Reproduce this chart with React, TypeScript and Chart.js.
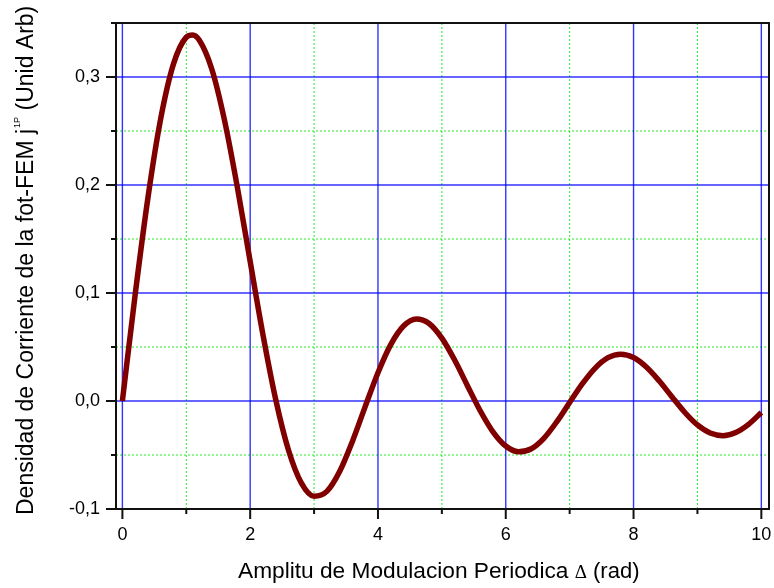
import React, { useEffect, useRef } from "react";
import { Chart, registerables } from "chart.js";

Chart.register(...registerables);

// Modulation amplitude Δ (rad)
const deltaRad = [
  0, 0.2, 0.4, 0.6, 0.8, 1.0, 1.1, 1.2, 1.4, 1.6, 1.8, 2.0, 2.2, 2.4, 2.6, 2.8,
  3.0, 3.2, 3.4, 3.6, 3.8, 4.0, 4.2, 4.4, 4.6, 4.8, 5.0, 5.2, 5.4, 5.6, 5.8,
  6.0, 6.2, 6.4, 6.6, 6.8, 7.0, 7.2, 7.4, 7.6, 7.8, 8.0, 8.2, 8.4, 8.6, 8.8,
  9.0, 9.2, 9.4, 9.6, 9.8, 10.0,
];

// Photo-EMF current density (arb. units)
const currentDensity = [
  0, 0.0985, 0.1882, 0.2615, 0.3121, 0.3368, 0.3389, 0.3344, 0.3072, 0.2595,
  0.1977, 0.1291, 0.0614, 0.0013, -0.0456, -0.0758, -0.0882, -0.0837, -0.0653,
  -0.0374, -0.0052, 0.0262, 0.0522, 0.0694, 0.076, 0.0718, 0.0582, 0.0379,
  0.0142, -0.009, -0.0285, -0.0417, -0.047, -0.0442, -0.0343, -0.0191, -0.0014,
  0.016, 0.0305, 0.0401, 0.0434, 0.0403, 0.0315, 0.0187, 0.004, -0.0104,
  -0.0222, -0.0297, -0.0321, -0.0292, -0.0216, -0.0107,
];

const xMajorTicks = [0, 2, 4, 6, 8, 10];
const xMinorTicks = [1, 3, 5, 7, 9];
const yMajorTicks = [-0.1, 0.0, 0.1, 0.2, 0.3];
const yMinorTicks = [-0.05, 0.05, 0.15, 0.25, 0.35];

const X_MIN = -0.1;
const X_MAX = 10.12;
const Y_MIN = -0.1;
const Y_MAX = 0.35;

const SANS = '"Liberation Sans", Arial, Helvetica, sans-serif';
const SERIF = '"Liberation Serif", "Times New Roman", serif';

const gridPlugin = {
  id: "originGrid",
  beforeDatasetsDraw(chart: any) {
    const { ctx, chartArea: a, scales } = chart;
    const xs = scales.x;
    const ys = scales.y;
    ctx.save();
    ctx.beginPath();
    ctx.rect(a.left, a.top, a.right - a.left, a.bottom - a.top);
    ctx.clip();

    // minor grid: dotted green
    ctx.strokeStyle = "rgba(0, 230, 0, 0.85)";
    ctx.lineWidth = 1;
    ctx.setLineDash([2, 2]);
    for (const v of xMinorTicks) {
      const px = xs.getPixelForValue(v);
      ctx.beginPath();
      ctx.moveTo(px, a.top);
      ctx.lineTo(px, a.bottom);
      ctx.stroke();
    }
    for (const v of yMinorTicks) {
      const py = ys.getPixelForValue(v);
      ctx.beginPath();
      ctx.moveTo(a.left, py);
      ctx.lineTo(a.right, py);
      ctx.stroke();
    }

    // major grid: solid blue
    ctx.setLineDash([]);
    ctx.strokeStyle = "rgba(0, 0, 255, 0.8)";
    ctx.lineWidth = 1.4;
    for (const v of xMajorTicks) {
      const px = xs.getPixelForValue(v);
      ctx.beginPath();
      ctx.moveTo(px, a.top);
      ctx.lineTo(px, a.bottom);
      ctx.stroke();
    }
    for (const v of yMajorTicks) {
      const py = ys.getPixelForValue(v);
      ctx.beginPath();
      ctx.moveTo(a.left, py);
      ctx.lineTo(a.right, py);
      ctx.stroke();
    }
    ctx.restore();
  },
  afterDatasetsDraw(chart: any) {
    const { ctx, chartArea: a, scales } = chart;
    const xs = scales.x;
    const ys = scales.y;
    ctx.save();
    ctx.strokeStyle = "#111";
    ctx.lineWidth = 2;
    ctx.setLineDash([]);
    // frame
    ctx.beginPath();
    ctx.rect(a.left, a.top, a.right - a.left, a.bottom - a.top);
    ctx.stroke();

    // tick marks, pointing outwards
    const major = 10;
    const minor = 5;
    for (const v of yMajorTicks) {
      const py = ys.getPixelForValue(v);
      ctx.beginPath();
      ctx.moveTo(a.left, py);
      ctx.lineTo(a.left - major, py);
      ctx.stroke();
    }
    for (const v of yMinorTicks) {
      const py = ys.getPixelForValue(v);
      ctx.beginPath();
      ctx.moveTo(a.left, py);
      ctx.lineTo(a.left - minor, py);
      ctx.stroke();
    }
    for (const v of xMajorTicks) {
      const px = xs.getPixelForValue(v);
      ctx.beginPath();
      ctx.moveTo(px, a.bottom);
      ctx.lineTo(px, a.bottom + major);
      ctx.stroke();
    }
    for (const v of xMinorTicks) {
      const px = xs.getPixelForValue(v);
      ctx.beginPath();
      ctx.moveTo(px, a.bottom);
      ctx.lineTo(px, a.bottom + minor);
      ctx.stroke();
    }
    ctx.restore();
  },
  afterDraw(chart: any) {
    const { ctx } = chart;
    ctx.save();
    ctx.fillStyle = "#000";
    ctx.textBaseline = "alphabetic";
    ctx.textAlign = "left";

    // x axis title
    let x = 238;
    const baseX = 578;
    ctx.font = `22.7px ${SANS}`;
    const xMain = "Amplitu de Modulacion Periodica ";
    ctx.fillText(xMain, x, baseX);
    x += ctx.measureText(xMain).width;
    ctx.font = `19px ${SERIF}`;
    ctx.fillText("\u0394", x, baseX);
    x += ctx.measureText("\u0394").width;
    ctx.font = `22px ${SANS}`;
    ctx.fillText(" (rad)", x, baseX);

    // y axis title (rotated, with superscript)
    ctx.translate(33, 515);
    ctx.rotate(-Math.PI / 2);
    let y = 0;
    ctx.font = `23px ${SANS}`;
    const yMain = "Densidad de Corriente de la fot-FEM j";
    ctx.fillText(yMain, y, 0);
    y += ctx.measureText(yMain).width + 1;
    ctx.font = `9px ${SANS}`;
    ctx.fillText("1P", y, -13);
    y += ctx.measureText("1P").width;
    ctx.font = `23px ${SANS}`;
    ctx.fillText(" (Unid Arb)", y, 0);
    ctx.restore();
  },
};

export default function App() {
  const canvasRef = useRef<HTMLCanvasElement | null>(null);

  useEffect(() => {
    document.body.style.margin = "0";
    const canvas = canvasRef.current;
    if (!canvas) return;
    const points = deltaRad.map((d, i) => ({ x: d, y: currentDensity[i] }));
    const chart = new Chart(canvas, {
      type: "line",
      data: {
        datasets: [
          {
            data: points,
            borderColor: "#800000",
            borderWidth: 5.5,
            pointRadius: 0,
            fill: false,
            cubicInterpolationMode: "monotone",
          },
        ],
      },
      options: {
        animation: false,
        responsive: false,
        devicePixelRatio: 1,
        layout: { padding: { top: 23, right: 5, left: 0, bottom: 0 } },
        plugins: {
          legend: { display: false },
          tooltip: { enabled: false },
        },
        scales: {
          x: {
            type: "linear",
            min: X_MIN,
            max: X_MAX,
            grid: { display: false, drawTicks: false },
            border: { display: false },
            afterBuildTicks: (scale: any) => {
              scale.ticks = xMajorTicks.map((v) => ({ value: v }));
            },
            afterFit: (scale: any) => {
              scale.height = 79;
              scale.paddingLeft = 0;
              scale.paddingRight = 0;
            },
            ticks: {
              autoSkip: false,
              maxRotation: 0,
              padding: 15,
              color: "#000",
              font: { family: SANS, size: 18 },
              callback: (v: any) => String(v),
            },
          },
          y: {
            type: "linear",
            min: Y_MIN,
            max: Y_MAX,
            grid: { display: false, drawTicks: false },
            border: { display: false },
            afterBuildTicks: (scale: any) => {
              scale.ticks = yMajorTicks.map((v) => ({ value: v }));
            },
            afterFit: (scale: any) => {
              scale.width = 116;
              scale.paddingTop = 0;
              scale.paddingBottom = 0;
            },
            ticks: {
              autoSkip: false,
              padding: 16,
              color: "#000",
              font: { family: SANS, size: 18 },
              callback: (v: any) => Number(v).toFixed(1).replace(".", ","),
            },
          },
        },
      },
      plugins: [gridPlugin],
    });
    return () => chart.destroy();
  }, []);

  return (
    <div style={{ width: 774, height: 588, background: "#fff" }}>
      <canvas ref={canvasRef} width={774} height={588} style={{ display: "block" }} />
    </div>
  );
}
